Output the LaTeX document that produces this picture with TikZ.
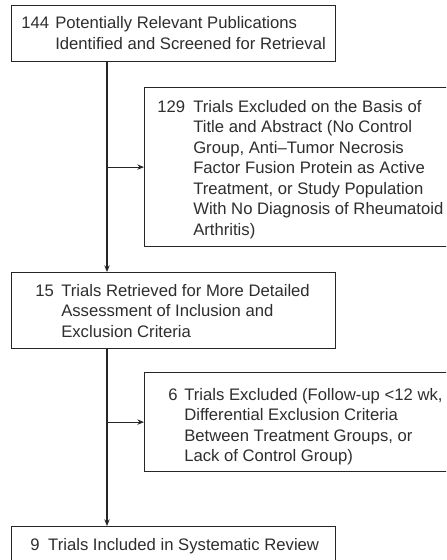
\documentclass[tikz,border=0pt]{standalone}
\usepackage{fontspec}
\setmainfont{Liberation Sans}
\usetikzlibrary{arrows.meta}
\def\pxu{0.75pt}
\newcommand{\flowentry}[3]{\fontsize{12.5pt}{15.4pt}\selectfont\renewcommand{\arraystretch}{1}\setlength{\tabcolsep}{0pt}\begin{tabular}[t]{@{}p{#2}@{}l@{}}#1 & #3\end{tabular}}
\begin{document}
\begin{tikzpicture}[x=0.75pt,y=-0.75pt,
  flowbox/.style={draw=black!85,line width=0.9pt,anchor=north west,inner sep=0pt,minimum width=#1*\pxu},
  flowtext/.style={anchor=base west,inner sep=0pt,text=black!82},
  flowarrow/.style={draw=black!85,line width=0.9pt,-{Stealth[length=5pt,width=4pt]}}]
\useasboundingbox (0,0) rectangle (446,560);
\clip (0,0) rectangle (446,560);
\fill[white] (0,0) rectangle (446,560);
\coordinate (spine) at (107,0);
\node[flowbox=324,minimum height=56*\pxu] (b1) at (11,5) {};
\node[flowbox=316,minimum height=159*\pxu] (b2) at (144,87) {};
\node[flowbox=324,minimum height=76*\pxu] (b3) at (11,272) {};
\node[flowbox=316,minimum height=99*\pxu] (b4) at (144,372) {};
\node[flowbox=324,minimum height=60*\pxu] (b5) at (11,526) {};
\node[flowtext] (t1) at (21,29) {\flowentry{144}{25.5pt}{Potentially Relevant Publications\\ & Identified and Screened for Retrieval}};
\node[flowtext] (t2) at (157,112) {\flowentry{129}{27pt}{Trials Excluded on the Basis of\\ & Title and Abstract (No Control\\ & Group, Anti–Tumor Necrosis\\ & Factor Fusion Protein as Active\\ & Treatment, or Study Population\\ & With No Diagnosis of Rheumatoid\\ & Arthritis)}};
\node[flowtext] (t3) at (35,296) {\flowentry{15}{19.5pt}{Trials Retrieved for More Detailed\\ & Assessment of Inclusion and\\ & Exclusion Criteria}};
\node[flowtext] (t4) at (168,400) {\flowentry{6}{12pt}{Trials Excluded (Follow-up <12 wk,\\ & Differential Exclusion Criteria\\ & Between Treatment Groups, or\\ & Lack of Control Group)}};
\node[flowtext] (t5) at (30,550) {\flowentry{9}{13.5pt}{Trials Included in Systematic Review}};
\draw[flowarrow] (b1.south -| spine) -- (b3.north -| spine);
\draw[flowarrow] (b2.west -| spine) -- (b2.west);
\draw[flowarrow] (b3.south -| spine) -- (b5.north -| spine);
\draw[flowarrow] (b4.west -| spine) -- (b4.west);
\end{tikzpicture}
\end{document}
